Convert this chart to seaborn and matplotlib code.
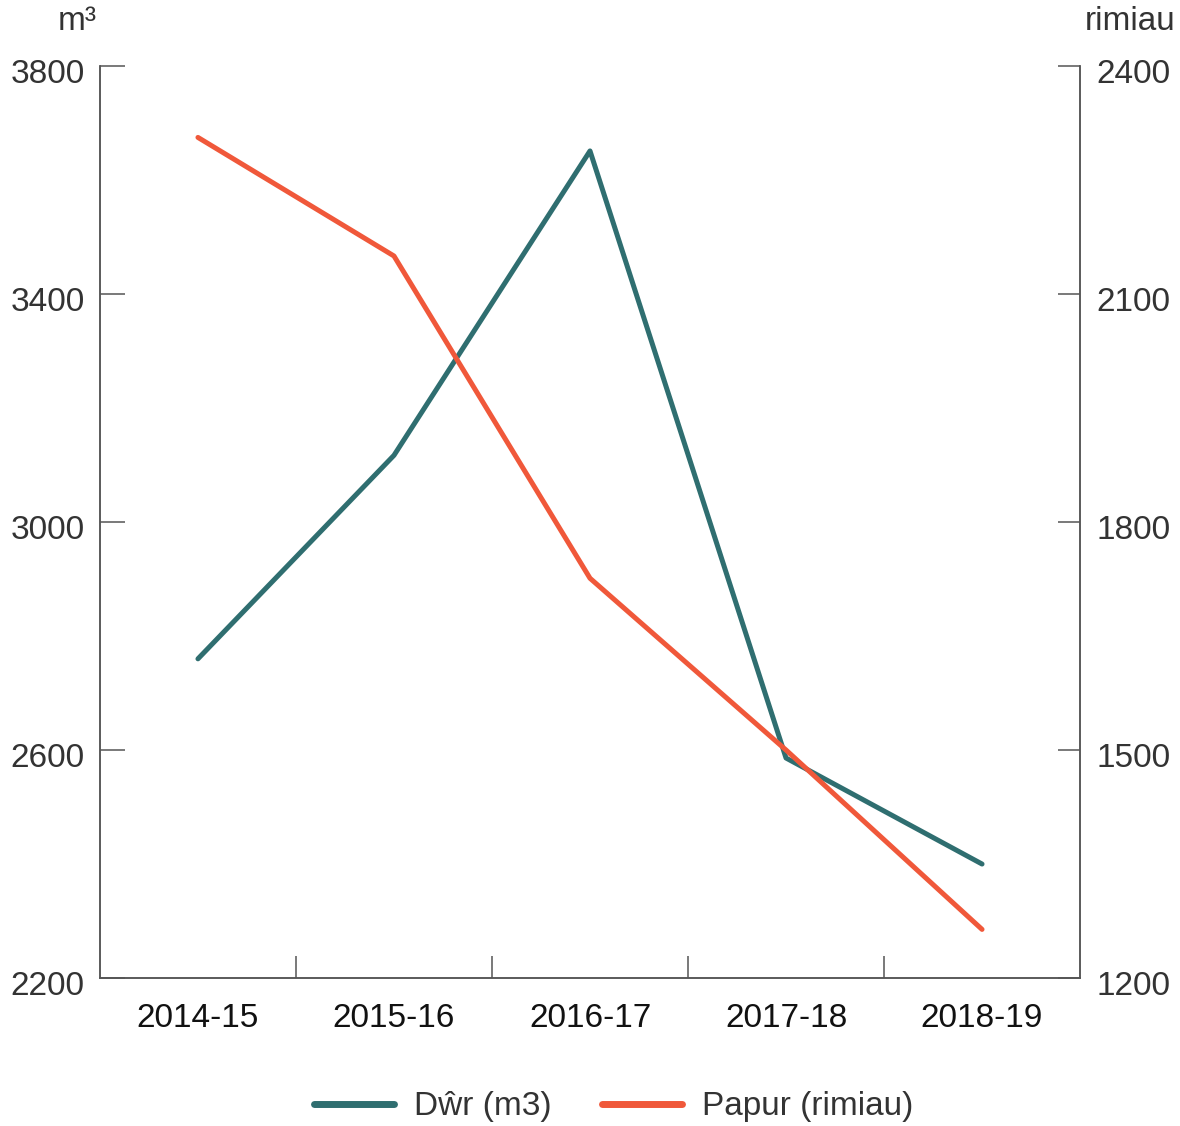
import matplotlib
matplotlib.use("Agg")
import matplotlib.pyplot as plt
import matplotlib.transforms as mtransforms
import seaborn as sns
import pandas as pd
from matplotlib.ticker import FixedLocator, NullFormatter

years = ["2014-15", "2015-16", "2016-17", "2017-18", "2018-19"]
water_m3 = [2760, 3117, 3651, 2586, 2400]
paper_reams = [2306, 2150, 1726, 1500, 1264]

left_ticks = [2200, 2600, 3000, 3400, 3800]
right_ticks = [1200, 1500, 1800, 2100, 2400]

teal = "#2f6e70"
orange = "#f0583a"
axis_grey = "#555555"
text_grey = "#333333"

sns.set_theme(style="white")
plt.rcParams["font.family"] = ["Liberation Sans", "DejaVu Sans"]

df = pd.DataFrame({"year": years, "water": water_m3, "paper": paper_reams})

fig = plt.figure(figsize=(11.8, 11.26), dpi=100)
ax = fig.add_axes([0.0847, 0.1314, 0.8306, 0.81])
ax2 = ax.twinx()

sns.lineplot(data=df, x="year", y="water", ax=ax, color=teal, linewidth=3.6,
             label="Dŵr (m3)", legend=False, zorder=2)
sns.lineplot(data=df, x="year", y="paper", ax=ax2, color=orange, linewidth=3.6,
             label="Papur (rimiau)", legend=False, zorder=3)

ax.set_xlim(-0.5, 4.5)
ax.set_ylim(2200, 3800)
ax2.set_ylim(1200, 2400)
ax.set_yticks(left_ticks)
ax2.set_yticks(right_ticks)
ax.set_xticks(range(len(years)))
ax.set_xticklabels(years)
ax.xaxis.set_minor_locator(FixedLocator([0.5, 1.5, 2.5, 3.5]))
ax.xaxis.set_minor_formatter(NullFormatter())

for a in (ax, ax2):
    a.set_xlabel("")
    a.set_ylabel("")
    a.grid(False)
    a.spines["top"].set_visible(False)
    for s in ("left", "right", "bottom"):
        a.spines[s].set_color(axis_grey)
        a.spines[s].set_linewidth(1.1)

ax.tick_params(axis="y", which="major", direction="in", length=18, width=1.1,
               color=axis_grey, labelsize=24, labelcolor=text_grey, pad=11,
               left=True, right=False)
ax2.tick_params(axis="y", which="major", direction="in", length=16, width=1.1,
                color=axis_grey, labelsize=24, labelcolor=text_grey, pad=12,
                right=True, left=False)
ax.tick_params(axis="x", which="major", length=0, labelsize=24,
               labelcolor="#111111", pad=18)
ax.tick_params(axis="x", which="minor", direction="in", length=16, width=1.1,
               color=axis_grey, bottom=True)

# nudge the value labels slightly below their tick marks
shift = mtransforms.ScaledTranslation(0, -5 / 100, fig.dpi_scale_trans)
for lab in ax.get_yticklabels() + ax2.get_yticklabels():
    lab.set_transform(lab.get_transform() + shift)

fig.text(0.082, 0.9805, "m³", ha="right", va="center", fontsize=24,
         color=text_grey)
fig.text(0.996, 0.9805, "rimiau", ha="right", va="center", fontsize=24,
         color=text_grey)

handles = ax.get_lines()[:1] + ax2.get_lines()[:1]
leg = fig.legend(handles, ["Dŵr (m3)", "Papur (rimiau)"], loc="center",
                 bbox_to_anchor=(0.52, 0.017), ncol=2, frameon=False,
                 fontsize=24, handlelength=2.4, columnspacing=1.5,
                 handletextpad=0.6)
for line in leg.get_lines():
    line.set_linewidth(5)
    line.set_solid_capstyle("round")
for t in leg.get_texts():
    t.set_color(text_grey)

fig.savefig("out.png", dpi=100, facecolor="white")
